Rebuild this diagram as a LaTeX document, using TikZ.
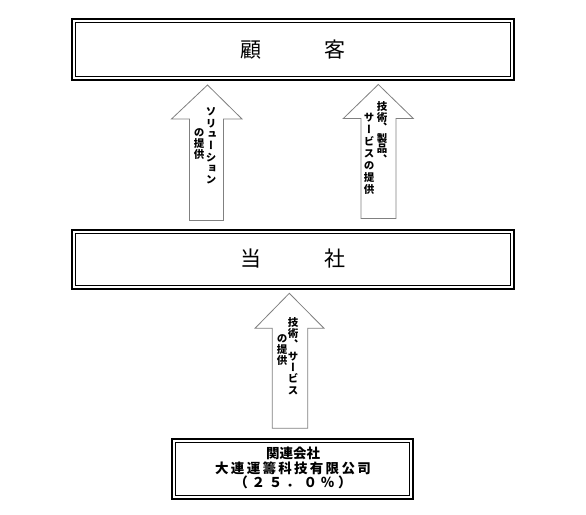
\documentclass[tikz,border=0pt]{standalone}
\usepackage{fontspec}
\newfontfamily\cjk{Noto Sans CJK JP}
\newfontfamily\cjkv[RawFeature={+vert}]{Noto Sans CJK JP}
\begin{document}
\begin{tikzpicture}[x=1pt,y=-1pt,
  outerbox/.style={draw=black, line width=2pt, outer sep=0pt, inner sep=0pt, fill=white},
  innerline/.style={draw=black, line width=0.8pt},
  title/.style={font=\cjk\fontsize{21}{24}\selectfont},
  blockarrow/.style={draw=black!50, line width=0.8pt, fill=white, line join=miter},
  vcol/.style={font=\cjkv\bfseries\fontsize{10.5}{#1}\selectfont, align=center, inner sep=0pt},
  vcol/.default=11.3
]
\useasboundingbox[fill=white] (0,0) rectangle (586,514);

% boxes
\node[outerbox, minimum width=442pt, minimum height=61pt] (kokyaku) at (293,49.5) {};
\draw[innerline] ([xshift=3.5pt,yshift=-3.5pt]kokyaku.north west) rectangle ([xshift=-3.5pt,yshift=3.5pt]kokyaku.south east);
\node[title] (kokyakut) at (kokyaku.center) {顧　　　客};

\node[outerbox, minimum width=442pt, minimum height=59pt] (tousha) at (293,259) {};
\draw[innerline] ([xshift=3.5pt,yshift=-3.5pt]tousha.north west) rectangle ([xshift=-3.5pt,yshift=3.5pt]tousha.south east);
\node[title] (toushat) at (tousha.center) {当　　　社};

\node[outerbox, minimum width=240.5pt, minimum height=60pt] (kanren) at (292.25,469) {};
\draw[innerline] ([xshift=3.5pt,yshift=-3.5pt]kanren.north west) rectangle ([xshift=-3.5pt,yshift=3.5pt]kanren.south east);
\node[font=\cjk\bfseries\fontsize{13.5}{14.5}\selectfont, align=center, inner sep=0pt] (kanrent) at (293,468)
  {関連会社\\{\addfontfeature{LetterSpace=17}大連運籌科技有限公司}\\{\addfontfeature{LetterSpace=28}（２５．０％）}};

% block arrows
\draw[blockarrow] (207.5,85) -- (242,119) -- (223.5,119) -- (223.5,220.5) -- (189.5,220.5) -- (189.5,119) -- (171.5,119) -- cycle;
\draw[blockarrow] (378.3,84.5) -- (413.3,118.5) -- (396,118.5) -- (396,218.5) -- (361,218.5) -- (361,118.5) -- (343.3,118.5) -- cycle;
\draw[blockarrow] (289.3,293.3) -- (324,328.3) -- (307.7,328.3) -- (307.7,428.3) -- (272.3,428.3) -- (272.3,328.3) -- (255,328.3) -- cycle;

% arrow labels (vertical text)
\node[vcol] (l1) at (211,146) {ソ\\リ\\ュ\\ー\\シ\\ョ\\ン};
\node[vcol] (l2) at (199,144) {の\\提\\供};
\node[vcol=10.5] (r1) at (382,132.5) {技\\術\\、\\製\\品\\、};
\node[vcol=12] (r2) at (369,154) {サ\\ー\\ビ\\ス\\の\\提\\供};
\node[vcol] (b1) at (293,356) {技\\術\\、\\サ\\ー\\ビ\\ス};
\node[vcol] (b2) at (282,350) {の\\提\\供};
\end{tikzpicture}
\end{document}
